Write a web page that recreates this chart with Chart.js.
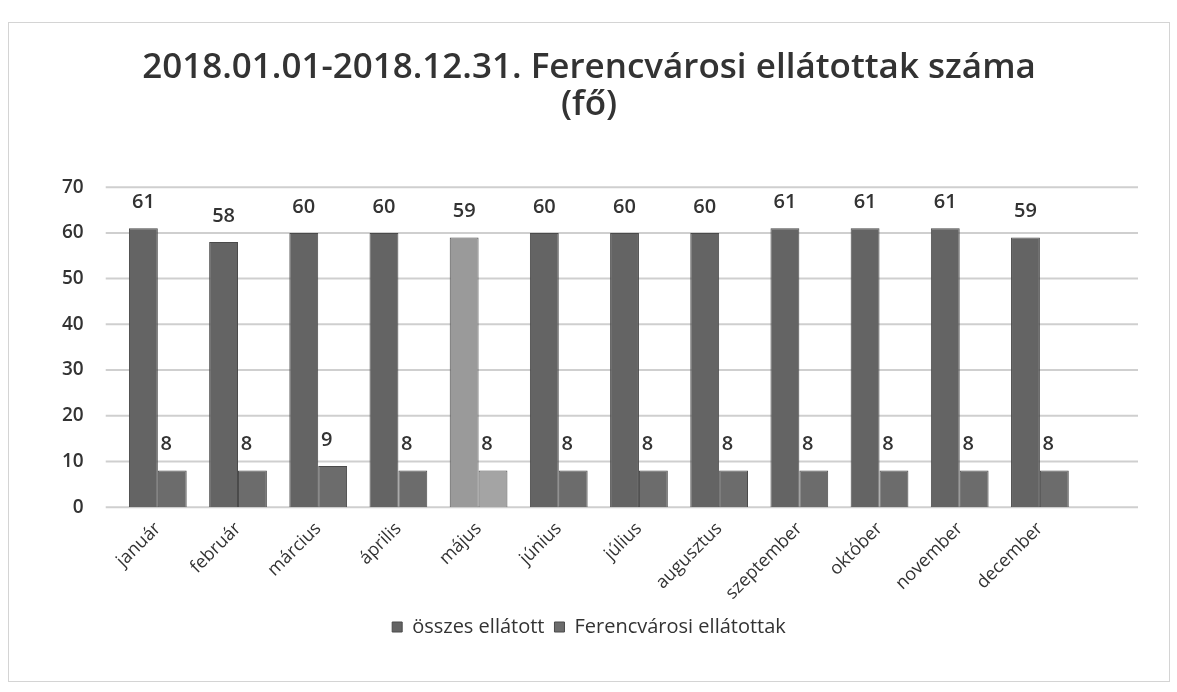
<!DOCTYPE html>
<html lang="hu">
<head>
<meta charset="UTF-8">
<title>Ferencvárosi ellátottak</title>
<style>
    body { margin: 0; background: #fff; }
    .keret { position: absolute; left: 8px; top: 22px; width: 1160px; height: 658px; border: 1px solid #d4d4d4; }
</style>
</head>
<body>
<div class="keret">
    <canvas id="grafikon"></canvas>
</div>
<script src="https://cdn.jsdelivr.net/npm/chart.js"></script>
<script>
    // adatok
    const honapok = ['január', 'február', 'március', 'április', 'május', 'június', 'július', 'augusztus', 'szeptember', 'október', 'november', 'december'];
    const osszesEllatott = [61, 58, 60, 60, 59, 60, 60, 60, 61, 61, 61, 59];
    const ferencvarosiEllatottak = [8, 8, 9, 8, 8, 8, 8, 8, 8, 8, 8, 8];
    const yTickek = [0, 10, 20, 30, 40, 50, 60, 70];

    // május oszlopa világosabb a képen
    const osszesSzinek = honapok.map(h => h === 'május' ? '#9a9a9a' : '#646464');
    const ferencSzinek = honapok.map(h => h === 'május' ? '#a4a4a4' : '#6c6c6c');

    const betu = '"Open Sans", sans-serif';

    // rácsvonalak kicsit túlnyúlnak jobbra (mint a 3D-s eredetin)
    const racs = {
        id: 'racs',
        beforeDatasetsDraw(chart) {
            const ctx = chart.ctx;
            const y = chart.scales.y;
            const area = chart.chartArea;
            ctx.save();
            ctx.strokeStyle = '#cfcfcf';
            ctx.lineWidth = 2;
            yTickek.forEach(v => {
                const py = y.getPixelForValue(v);
                ctx.beginPath();
                ctx.moveTo(area.left - 12, py);
                ctx.lineTo(area.right + 58, py);
                ctx.stroke();
            });
            ctx.restore();
        }
    };

    // értékek kiírása az oszlopok fölé
    const ertekCimkek = {
        id: 'ertekCimkek',
        afterDatasetsDraw(chart) {
            const ctx = chart.ctx;
            ctx.save();
            ctx.font = '600 20px ' + betu;
            ctx.fillStyle = '#333';
            ctx.textAlign = 'center';
            ctx.textBaseline = 'bottom';
            chart.data.datasets.forEach((ds, i) => {
                chart.getDatasetMeta(i).data.forEach((bar, j) => {
                    const eltolas = i === 1 ? -6 : 0;
                    ctx.fillText(ds.data[j], bar.x + eltolas, bar.y - 16);
                });
            });
            ctx.restore();
        }
    };

    new Chart(document.getElementById('grafikon'), {
        type: 'bar',
        data: {
            labels: honapok,
            datasets: [{
                label: 'összes ellátott',
                data: osszesEllatott,
                backgroundColor: osszesSzinek,
                borderColor: '#4a4a4a',
                borderWidth: 1
            }, {
                label: 'Ferencvárosi ellátottak',
                data: ferencvarosiEllatottak,
                backgroundColor: ferencSzinek,
                borderColor: '#4a4a4a',
                borderWidth: 1
            }]
        },
        options: {
            responsive: true,
            maintainAspectRatio: false,
            animation: false,
            layout: { padding: { left: 27, right: 27, top: 0, bottom: 34 } },
            datasets: { bar: { categoryPercentage: 0.72, barPercentage: 1.0 } },
            plugins: {
                title: {
                    display: true,
                    text: ['2018.01.01-2018.12.31. Ferencvárosi ellátottak száma', '(fő)'],
                    color: '#333',
                    font: { family: betu, size: 35, weight: '600', lineHeight: 1.06 },
                    padding: { top: 26, bottom: 64 }
                },
                legend: {
                    position: 'bottom',
                    labels: {
                        color: '#333',
                        boxWidth: 10,
                        boxHeight: 10,
                        padding: 10,
                        font: { family: betu, size: 20 }
                    }
                },
                tooltip: { enabled: false }
            },
            scales: {
                x: {
                    grid: { display: false },
                    border: { display: false },
                    afterFit(axis) {
                        axis.paddingLeft = 0;
                        axis.paddingRight = 0;
                    },
                    ticks: {
                        color: '#333',
                        maxRotation: 45,
                        minRotation: 45,
                        font: { family: betu, size: 18 }
                    }
                },
                y: {
                    min: 0,
                    max: 70,
                    afterBuildTicks(axis) {
                        axis.ticks = yTickek.map(v => ({ value: v }));
                    },
                    grid: { display: false },
                    border: { display: false },
                    ticks: {
                        color: '#333',
                        padding: 26,
                        font: { family: betu, size: 19, weight: '600' }
                    }
                },
                // üres hely a jobb oldalon a 3D-s mélység helyett
                yJobb: {
                    position: 'right',
                    min: 0,
                    max: 70,
                    grid: { display: false },
                    border: { display: false },
                    ticks: { display: false },
                    afterFit(axis) {
                        axis.width = 62;
                    }
                }
            }
        },
        plugins: [racs, ertekCimkek]
    });
</script>
</body>
</html>
